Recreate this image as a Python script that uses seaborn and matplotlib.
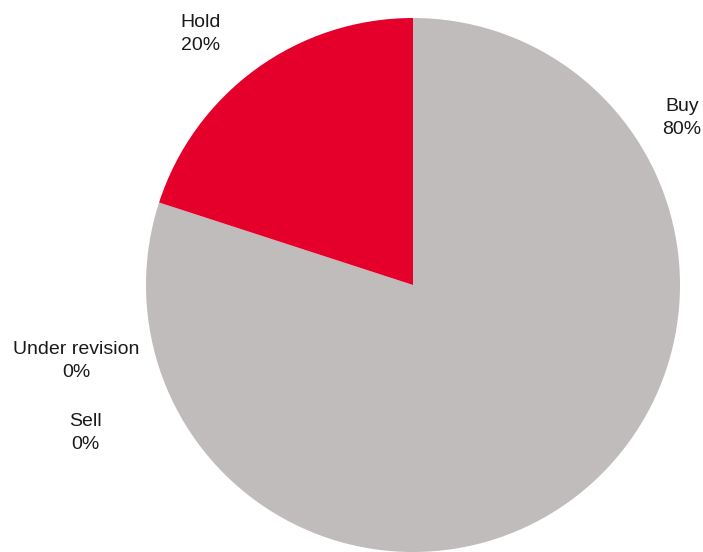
import matplotlib
matplotlib.use("Agg")
import matplotlib.pyplot as plt
import seaborn as sns

# Data
categories = ["Buy", "Hold", "Sell", "Under revision"]
shares = [80, 20, 0, 0]
colors = ["#C0BCBC", "#E4002B", "#8C8C8C", "#5A5A5A"]

sns.set_theme(style="white")
plt.rcParams["font.family"] = ["Liberation Sans", "DejaVu Sans"]

W, H = 703, 552
fig = plt.figure(figsize=(W / 100, H / 100), dpi=100)
ax = fig.add_axes([0, 0, 1, 1])

cx, cy, r = 413, H - 285, 267
ax.pie(shares, colors=colors, startangle=90, counterclock=False,
       center=(cx, cy), radius=r, wedgeprops=dict(linewidth=0))

ax.set_xlim(0, W)
ax.set_ylim(0, H)
ax.set_aspect("equal")
ax.axis("off")

# label positions (pixel coordinates, top-left origin)
label_pos = {
    "Buy": (682, 118),
    "Hold": (201, 34),
    "Sell": (85, 433),
    "Under revision": (76, 361),
}
for cat, val in zip(categories, shares):
    x, y = label_pos[cat]
    ax.text(x, H - y, f"{cat}\n{val}%", ha="center", va="center",
            fontsize=14, color="#1a1a1a", linespacing=1.4)

fig.savefig("out.png", dpi=100)
